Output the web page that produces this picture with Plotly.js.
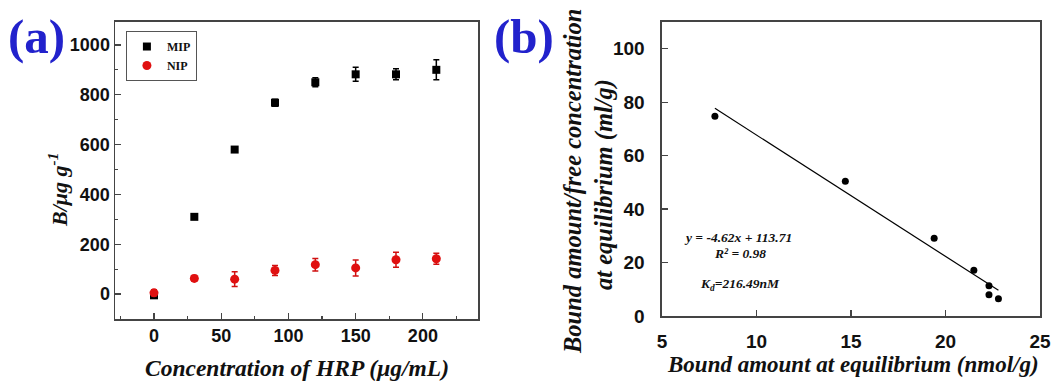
<!DOCTYPE html>
<html><head><meta charset="utf-8">
<script src="https://cdn.plot.ly/plotly-3.0.1.min.js"></script>
<style>html,body{margin:0;padding:0;background:#fff}#c{width:1058px;height:383px}</style>
</head><body><div id="c"></div>
<script>
// Panel (a): binding isotherm
const concentration = [0, 30, 60, 90, 120, 150, 180, 210];
const mipValues = [-5, 310, 580, 768, 850, 882, 882, 900];
const mipErrors = [6, 10, 8, 14, 18, 28, 22, 40];
const nipValues = [5, 63, 60, 95, 118, 105, 138, 142];
const nipErrors = [12, 12, 30, 20, 25, 32, 30, 22];

// Panel (b): Scatchard plot
const boundAmount = [7.8, 14.7, 19.4, 21.5, 22.3, 22.3, 22.8];
const boundRatio = [74.7, 50.4, 29.1, 17.1, 11.3, 8.0, 6.5];
const fitX = [7.8, 22.8];
const fitY = [77.7, 9.6];

const serifBI = {family: 'Liberation Serif, Times New Roman, serif', weight: 'bold', style: 'italic', color: '#111'};
const tickFont = {family: 'Liberation Sans, Arial, sans-serif', size: 18, weight: 'bold', color: '#111'};

const traces = [
  {x: concentration, y: mipValues, type: 'scatter', mode: 'markers', name: 'MIP',
   marker: {symbol: 'square', size: 8, color: '#000'},
   error_y: {type: 'data', array: mipErrors, visible: true, color: '#000', thickness: 1.5, width: 3},
   xaxis: 'x', yaxis: 'y'},
  {x: concentration, y: nipValues, type: 'scatter', mode: 'markers', name: 'NIP',
   marker: {symbol: 'circle', size: 9, color: '#e01010'},
   error_y: {type: 'data', array: nipErrors, visible: true, color: '#d01010', thickness: 1.5, width: 3},
   xaxis: 'x', yaxis: 'y'},
  {x: fitX, y: fitY, type: 'scatter', mode: 'lines', showlegend: false,
   line: {color: '#000', width: 1.2}, xaxis: 'x2', yaxis: 'y2'},
  {x: boundAmount, y: boundRatio, type: 'scatter', mode: 'markers', showlegend: false,
   marker: {symbol: 'circle', size: 7, color: '#000'}, xaxis: 'x2', yaxis: 'y2'}
];

const axBase = {showline: true, linecolor: '#444', linewidth: 1.5, mirror: true, ticks: 'inside',
  tickcolor: '#444', tickwidth: 1.2, ticklen: 6, showgrid: false, zeroline: false, tickfont: tickFont};

function ann(text, px, py, size, extra) {
  return Object.assign({text: text, x: px / 1058, y: 1 - py / 383, xref: 'paper', yref: 'paper',
    xanchor: 'center', yanchor: 'middle', showarrow: false, font: Object.assign({}, serifBI, {size: size})}, extra || {});
}

const labelFont = {family: 'Liberation Serif, Times New Roman, serif', size: 49, weight: 'bold', color: '#2222cc'};

const layout = {
  width: 1058, height: 383, margin: {l: 0, r: 0, t: 0, b: 0},
  paper_bgcolor: '#fff', plot_bgcolor: '#fff', showlegend: true,
  xaxis: Object.assign({}, axBase, {domain: [0.1087, 0.4518], range: [-29, 241], tickvals: [0, 50, 100, 150, 200],
    minor: {ticks: 'inside', dtick: 25, tick0: 0, ticklen: 3, tickcolor: '#444'}, anchor: 'y'}),
  yaxis: Object.assign({}, axBase, {domain: [0.1671, 0.9426], range: [-100, 1092], tickvals: [0, 200, 400, 600, 800, 1000],
    minor: {ticks: 'inside', dtick: 100, tick0: 0, ticklen: 3, tickcolor: '#444'}, anchor: 'x'}),
  xaxis2: Object.assign({}, axBase, {domain: [0.6257, 0.9830], range: [5, 25], tickvals: [5, 10, 15, 20, 25],
    ticklabelstandoff: 8, anchor: 'y2', tickfont: Object.assign({}, tickFont, {size: 19})}),
  yaxis2: Object.assign({}, axBase, {domain: [0.1749, 0.9426], range: [0, 110], tickvals: [0, 20, 40, 60, 80, 100],
    ticklabelstandoff: 12, anchor: 'x2', tickfont: Object.assign({}, tickFont, {size: 19})}),
  legend: {x: 0.119, y: 0.919, xanchor: 'left', yanchor: 'top', bgcolor: '#fff', bordercolor: '#555', borderwidth: 1,
    font: {family: 'Liberation Serif, Times New Roman, serif', size: 12, weight: 'bold', color: '#111'},
    tracegroupgap: 0, itemwidth: 30},
  annotations: [
    Object.assign(ann('(a)', 36, 36, 49), {font: labelFont}),
    Object.assign(ann('(b)', 524, 36, 49), {font: labelFont}),
    ann('Concentration of HRP (μg/mL)', 297, 368, 23.5),
    ann('B/μg g<sup>-1</sup>', 58, 190, 22, {textangle: -90}),
    ann('Bound amount at equilibrium (nmol/g)', 853, 364, 23),
    ann('Bound amount/free concentration', 573, 182, 24.5, {textangle: -90}),
    ann('at equilibrium (ml/g)', 604, 185, 24.5, {textangle: -90}),
    ann('y = -4.62x + 113.71', 738, 237, 13.5),
    ann('R² = 0.98', 740, 253, 13.5),
    ann('K<sub>d</sub>=216.49nM', 740, 284, 13.5)
  ]
};

Plotly.newPlot('c', traces, layout, {displayModeBar: false, staticPlot: true});
</script></body></html>
